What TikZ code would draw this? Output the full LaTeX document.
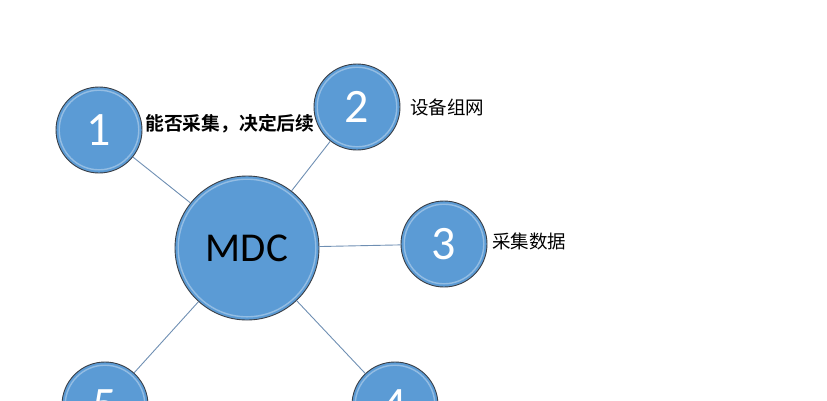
\documentclass[tikz,border=0pt]{standalone}
\usepackage{fontspec}
\setmainfont{Carlito}
\newfontfamily\cjk{Noto Sans CJK SC}
\newfontfamily\cjkb{Noto Sans CJK SC Bold}
\definecolor{ballfill}{HTML}{5B9BD5}
\definecolor{ballrim}{HTML}{3A3F47}
\definecolor{linkcol}{HTML}{6F8FB3}
\tikzset{
  ball/.style={circle, fill=ballfill, draw=ballrim, line width=0.9pt, inner sep=0pt,
    text=white, font=\fontsize{48}{48}\selectfont,
    path picture={\draw[white, opacity=0.35, line width=1.4pt]
      (path picture bounding box.center) circle[radius=\pgfkeysvalueof{/pgf/minimum width}/2-3.2pt];}},
  small/.style={ball, minimum size=86pt},
  big/.style={ball, minimum size=144pt, text=black, font=\fontsize{41}{41}\selectfont},
  link/.style={draw=linkcol, line width=0.9pt},
  lab/.style={anchor=west, inner sep=0pt, font=\cjk\fontsize{18.5}{18.5}\selectfont},
  labb/.style={anchor=west, inner sep=0pt, font=\cjkb\fontsize{18.8}{18.8}\selectfont}
}
\begin{document}
\begin{tikzpicture}[x=1pt,y=-1pt]
\useasboundingbox (0,0) rectangle (827,400);
\clip (0,0) rectangle (827,400);
\node[labb] (t1) at (145,124) {能否采集，决定后续};
\node[lab] (t2) at (410,107) {设备组网};
\node[lab] (t3) at (492,241) {采集数据};
\node[big] (m) at (247,248) {MDC};
\node[small] (n1) at (99,130) {1};
\node[small] (n2) at (357,107) {2};
\node[small] (n3) at (444,244) {3};
\node[small] (n4) at (395,405) {4};
\node[small] (n5) at (105,405) {5};
\draw[link] (m) -- (n1);
\draw[link] (m) -- (n2);
\draw[link] (m) -- (n3);
\draw[link] (m) -- (n4);
\draw[link] (m) -- (n5);
\end{tikzpicture}
\end{document}
